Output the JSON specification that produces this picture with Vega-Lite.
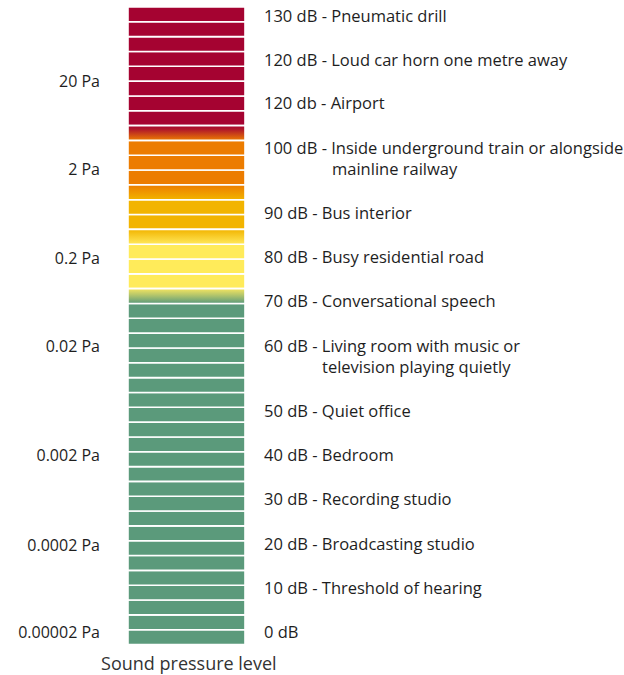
{
  "$schema": "https://vega.github.io/schema/vega-lite/v6.json",
  "width": 624,
  "height": 675,
  "padding": 0,
  "autosize": {"type": "fit", "contains": "padding"},
  "background": "white",
  "config": {"view": {"stroke": null}, "text": {"font": "Open Sans"}},
  "datasets": {
    "cells": [
      {"lo": 0, "hi": 1, "band": "green"},
      {"lo": 1, "hi": 2, "band": "green"},
      {"lo": 2, "hi": 3, "band": "green"},
      {"lo": 3, "hi": 4, "band": "green"},
      {"lo": 4, "hi": 5, "band": "green"},
      {"lo": 5, "hi": 6, "band": "green"},
      {"lo": 6, "hi": 7, "band": "green"},
      {"lo": 7, "hi": 8, "band": "green"},
      {"lo": 8, "hi": 9, "band": "green"},
      {"lo": 9, "hi": 10, "band": "green"},
      {"lo": 10, "hi": 11, "band": "green"},
      {"lo": 11, "hi": 12, "band": "green"},
      {"lo": 12, "hi": 13, "band": "green"},
      {"lo": 13, "hi": 14, "band": "green"},
      {"lo": 14, "hi": 15, "band": "green"},
      {"lo": 15, "hi": 16, "band": "green"},
      {"lo": 16, "hi": 17, "band": "green"},
      {"lo": 17, "hi": 18, "band": "green"},
      {"lo": 18, "hi": 19, "band": "green"},
      {"lo": 19, "hi": 20, "band": "green"},
      {"lo": 20, "hi": 21, "band": "green"},
      {"lo": 21, "hi": 22, "band": "green"},
      {"lo": 22, "hi": 23, "band": "green"},
      {"lo": 23, "hi": 24, "band": "ye-gr"},
      {"lo": 24, "hi": 25, "band": "yellow"},
      {"lo": 25, "hi": 26, "band": "yellow"},
      {"lo": 26, "hi": 27, "band": "yellow"},
      {"lo": 27, "hi": 28, "band": "go-ye"},
      {"lo": 28, "hi": 29, "band": "gold"},
      {"lo": 29, "hi": 30, "band": "gold"},
      {"lo": 30, "hi": 31, "band": "or-go"},
      {"lo": 31, "hi": 32, "band": "orange"},
      {"lo": 32, "hi": 33, "band": "orange"},
      {"lo": 33, "hi": 34, "band": "orange"},
      {"lo": 34, "hi": 35, "band": "cr-or"},
      {"lo": 35, "hi": 36, "band": "crimson"},
      {"lo": 36, "hi": 37, "band": "crimson"},
      {"lo": 37, "hi": 38, "band": "crimson"},
      {"lo": 38, "hi": 39, "band": "crimson"},
      {"lo": 39, "hi": 40, "band": "crimson"},
      {"lo": 40, "hi": 41, "band": "crimson"},
      {"lo": 41, "hi": 42, "band": "crimson"},
      {"lo": 42, "hi": 43, "band": "crimson"}
    ],
    "right": [
      {"text": "130 dB - Pneumatic drill", "pos": 42.357, "line": "first"},
      {"text": "120 dB - Loud car horn one metre away", "pos": 39.323, "line": "first"},
      {"text": "120 db - Airport", "pos": 36.422, "line": "first"},
      {"text": "100 dB - Inside underground train or alongside", "pos": 33.387, "line": "first"},
      {"text": "mainline railway", "pos": 31.971, "line": "cont100"},
      {"text": "90 dB - Bus interior", "pos": 29.003, "line": "first"},
      {"text": "80 dB - Busy residential road", "pos": 26.035, "line": "first"},
      {"text": "70 dB - Conversational speech", "pos": 23.101, "line": "first"},
      {"text": "60 dB - Living room with music or", "pos": 20.066, "line": "first"},
      {"text": "television playing quietly", "pos": 18.65, "line": "cont60"},
      {"text": "50 dB - Quiet office", "pos": 15.648, "line": "first"},
      {"text": "40 dB - Bedroom", "pos": 12.714, "line": "first"},
      {"text": "30 dB - Recording studio", "pos": 9.713, "line": "first"},
      {"text": "20 dB - Broadcasting studio", "pos": 6.711, "line": "first"},
      {"text": "10 dB - Threshold of hearing", "pos": 3.777, "line": "first"},
      {"text": "0 dB", "pos": 0.776, "line": "first"}
    ],
    "left": [
      {"text": "20 Pa", "pos": 37.906},
      {"text": "2 Pa", "pos": 32.005},
      {"text": "0.2 Pa", "pos": 26.001},
      {"text": "0.02 Pa", "pos": 20.066},
      {"text": "0.002 Pa", "pos": 12.714},
      {"text": "0.0002 Pa", "pos": 6.644},
      {"text": "0.00002 Pa", "pos": 0.776}
    ],
    "title": [
      {"text": "Sound pressure level", "pos": -1.38}
    ]
  },
  "layer": [
    {
      "data": {"name": "cells"},
      "transform": [{"filter": {"field": "band", "oneOf": ["crimson", "orange", "gold", "yellow", "green"]}}],
      "mark": {"type": "rect", "stroke": "white", "strokeWidth": 1.6},
      "encoding": {
        "x": {"datum": 0, "type": "quantitative", "scale": {"domain": [-2.188, 8.479], "nice": false, "zero": false}, "axis": null},
        "x2": {"datum": 2},
        "y": {"field": "lo", "type": "quantitative", "scale": {"domain": [-2.057, 43.47], "nice": false, "zero": false}, "axis": null},
        "y2": {"field": "hi"},
        "color": {
          "field": "band", "type": "nominal", "legend": null,
          "scale": {"domain": ["crimson", "orange", "gold", "yellow", "green"], "range": ["#A50331", "#EC7C00", "#F2B400", "#FFEB5A", "#5B9A7B"]}
        }
      }
    },
    {
      "data": {"name": "cells"},
      "transform": [{"filter": {"field": "band", "equal": "cr-or"}}],
      "mark": {"type": "rect", "stroke": "white", "strokeWidth": 1.6,
        "color": {"gradient": "linear", "x1": 0, "y1": 0, "x2": 0, "y2": 1, "stops": [{"offset": 0, "color": "#A50331"}, {"offset": 0.25, "color": "#B0172A"}, {"offset": 1, "color": "#EC7C00"}]}},
      "encoding": {
        "x": {"datum": 0, "type": "quantitative"},
        "x2": {"datum": 2},
        "y": {"field": "lo", "type": "quantitative"},
        "y2": {"field": "hi"}
      }
    },
    {
      "data": {"name": "cells"},
      "transform": [{"filter": {"field": "band", "equal": "or-go"}}],
      "mark": {"type": "rect", "stroke": "white", "strokeWidth": 1.6,
        "color": {"gradient": "linear", "x1": 0, "y1": 0, "x2": 0, "y2": 1, "stops": [{"offset": 0, "color": "#EC7C00"}, {"offset": 1, "color": "#F2B400"}]}},
      "encoding": {
        "x": {"datum": 0, "type": "quantitative"},
        "x2": {"datum": 2},
        "y": {"field": "lo", "type": "quantitative"},
        "y2": {"field": "hi"}
      }
    },
    {
      "data": {"name": "cells"},
      "transform": [{"filter": {"field": "band", "equal": "go-ye"}}],
      "mark": {"type": "rect", "stroke": "white", "strokeWidth": 1.6,
        "color": {"gradient": "linear", "x1": 0, "y1": 0, "x2": 0, "y2": 1, "stops": [{"offset": 0, "color": "#F2B400"}, {"offset": 1, "color": "#FFE85A"}]}},
      "encoding": {
        "x": {"datum": 0, "type": "quantitative"},
        "x2": {"datum": 2},
        "y": {"field": "lo", "type": "quantitative"},
        "y2": {"field": "hi"}
      }
    },
    {
      "data": {"name": "cells"},
      "transform": [{"filter": {"field": "band", "equal": "ye-gr"}}],
      "mark": {"type": "rect", "stroke": "white", "strokeWidth": 1.6,
        "color": {"gradient": "linear", "x1": 0, "y1": 0, "x2": 0, "y2": 1, "stops": [{"offset": 0, "color": "#F4E460"}, {"offset": 0.4, "color": "#B9C86A"}, {"offset": 1, "color": "#5B9A7B"}]}},
      "encoding": {
        "x": {"datum": 0, "type": "quantitative"},
        "x2": {"datum": 2},
        "y": {"field": "lo", "type": "quantitative"},
        "y2": {"field": "hi"}
      }
    },
    {
      "mark": {"type": "rule", "color": "white", "strokeWidth": 2},
      "encoding": {
        "x": {"datum": 1, "type": "quantitative"}
      }
    },
    {
      "data": {"name": "right"},
      "transform": [{"filter": {"field": "line", "equal": "first"}}],
      "mark": {"type": "text", "align": "left", "baseline": "middle", "fontSize": 16.5, "color": "#1E1E1E"},
      "encoding": {
        "x": {"datum": 2.325, "type": "quantitative"},
        "y": {"field": "pos", "type": "quantitative"},
        "text": {"field": "text", "type": "nominal"}
      }
    },
    {
      "data": {"name": "right"},
      "transform": [{"filter": {"field": "line", "equal": "cont100"}}],
      "mark": {"type": "text", "align": "left", "baseline": "middle", "fontSize": 16.5, "color": "#1E1E1E", "dx": 68},
      "encoding": {
        "x": {"datum": 2.325, "type": "quantitative"},
        "y": {"field": "pos", "type": "quantitative"},
        "text": {"field": "text", "type": "nominal"}
      }
    },
    {
      "data": {"name": "right"},
      "transform": [{"filter": {"field": "line", "equal": "cont60"}}],
      "mark": {"type": "text", "align": "left", "baseline": "middle", "fontSize": 16.5, "color": "#1E1E1E", "dx": 58},
      "encoding": {
        "x": {"datum": 2.325, "type": "quantitative"},
        "y": {"field": "pos", "type": "quantitative"},
        "text": {"field": "text", "type": "nominal"}
      }
    },
    {
      "data": {"name": "left"},
      "mark": {"type": "text", "align": "right", "baseline": "middle", "fontSize": 16, "color": "#1E1E1E"},
      "encoding": {
        "x": {"datum": -0.479, "type": "quantitative"},
        "y": {"field": "pos", "type": "quantitative"},
        "text": {"field": "text", "type": "nominal"}
      }
    },
    {
      "data": {"name": "title"},
      "mark": {"type": "text", "align": "center", "baseline": "middle", "fontSize": 18, "color": "#333333"},
      "encoding": {
        "x": {"datum": 1.04, "type": "quantitative"},
        "y": {"field": "pos", "type": "quantitative"},
        "text": {"field": "text", "type": "nominal"}
      }
    }
  ]
}
